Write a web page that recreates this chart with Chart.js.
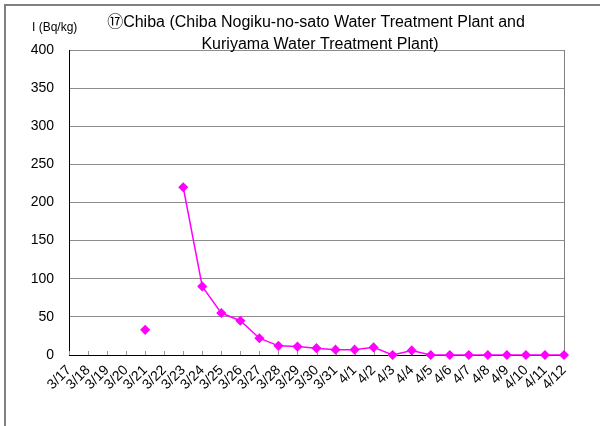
<!DOCTYPE html>
<html>
<head>
<meta charset="utf-8">
<script src="https://cdn.jsdelivr.net/npm/chart.js@4"></script>
<style>
  html, body { margin: 0; padding: 0; background: #fff; overflow: hidden; }
  #wrap { position: relative; width: 600px; height: 426px; }
  #frame { position: absolute; left: 4px; top: 4px; width: 700px; height: 600px;
           border-top: 2px solid #808080; border-left: 2px solid #808080; }
  canvas { position: absolute; left: 0; top: 0; }
</style>
</head>
<body>
<div id="wrap">
  <div id="frame"></div>
  <canvas id="grafico" width="600" height="426"></canvas>
</div>
<script>
// Datas e valores de iodo (Bq/kg)
const dias = ['3/17', '3/18', '3/19', '3/20', '3/21', '3/22', '3/23', '3/24', '3/25',
  '3/26', '3/27', '3/28', '3/29', '3/30', '3/31', '4/1', '4/2', '4/3', '4/4',
  '4/5', '4/6', '4/7', '4/8', '4/9', '4/10', '4/11', '4/12'];
const valores = [null, null, null, null, 33, null, 220, 90, 55,
  45, 22, 12, 11, 9, 7, 7, 10, 0, 6,
  0, 0, 0, 0, 0, 0, 0, 0];
const ticksY = [0, 50, 100, 150, 200, 250, 300, 350, 400];

const titulo1 = '⑰Chiba (Chiba Nogiku-no-sato Water Treatment Plant and';
const titulo2 = 'Kuriyama Water Treatment Plant)';
const unidade = 'I (Bq/kg)';

const fonte = '"Liberation Sans", Arial, "Noto Sans CJK JP", sans-serif';

// textos do titulo e marcas internas do eixo x
const extras = {
  id: 'extras',
  beforeDatasetsDraw(chart) {
    const c = chart.ctx;
    const x = chart.scales.x;
    const area = chart.chartArea;
    c.save();
    c.strokeStyle = '#999';
    c.lineWidth = 1;
    x.ticks.forEach((t, i) => {
      const px = Math.round(x.getPixelForTick(i)) + 0.5;
      c.beginPath();
      c.moveTo(px, area.bottom);
      c.lineTo(px, area.bottom - 4);
      c.stroke();
    });
    c.restore();
  },
  afterDraw(chart) {
    const c = chart.ctx;
    c.save();
    c.fillStyle = '#000';
    c.textAlign = 'center';
    c.textBaseline = 'middle';
    c.font = '16px ' + fonte;
    c.fillText(titulo1, 316, 23);
    c.fillText(titulo2, 320, 45);
    c.font = '12px ' + fonte;
    c.textAlign = 'left';
    c.fillText(unidade, 32, 28);
    c.restore();
  }
};

const ctx = document.getElementById('grafico').getContext('2d');
const grafico = new Chart(ctx, {
  type: 'line',
  data: {
    labels: dias,
    datasets: [{
      data: valores,
      borderColor: '#ff00ff',
      backgroundColor: '#ff00ff',
      borderWidth: 1.5,
      pointStyle: 'rectRot',
      pointRadius: 4,
      pointHoverRadius: 4,
      spanGaps: false,
      tension: 0,
      clip: false
    }]
  },
  options: {
    responsive: false,
    animation: false,
    layout: { padding: { top: 50, right: 36, left: 0, bottom: 0 } },
    plugins: {
      legend: { display: false },
      title: { display: false },
      tooltip: { enabled: false }
    },
    scales: {
      x: {
        offset: false,
        grid: {
          drawTicks: false,
          color: c => (c.index === dias.length - 1 ? '#808080' : 'transparent')
        },
        border: { color: '#000', width: 1 },
        ticks: {
          autoSkip: false,
          maxRotation: 45,
          minRotation: 45,
          padding: 7,
          color: '#000',
          font: { family: fonte, size: 14 }
        },
        afterFit(s) { s.height = 71; s.paddingLeft = 0; s.paddingRight = 0; }
      },
      y: {
        min: 0,
        max: 400,
        afterBuildTicks(s) { s.ticks = ticksY.map(v => ({ value: v })); },
        grid: { drawTicks: false, color: '#8c8c8c' },
        border: { color: '#000', width: 1 },
        ticks: {
          padding: 15,
          color: '#000',
          font: { family: fonte, size: 14 }
        },
        afterFit(s) { s.width = 69; }
      }
    }
  },
  plugins: [extras]
});
</script>
</body>
</html>
